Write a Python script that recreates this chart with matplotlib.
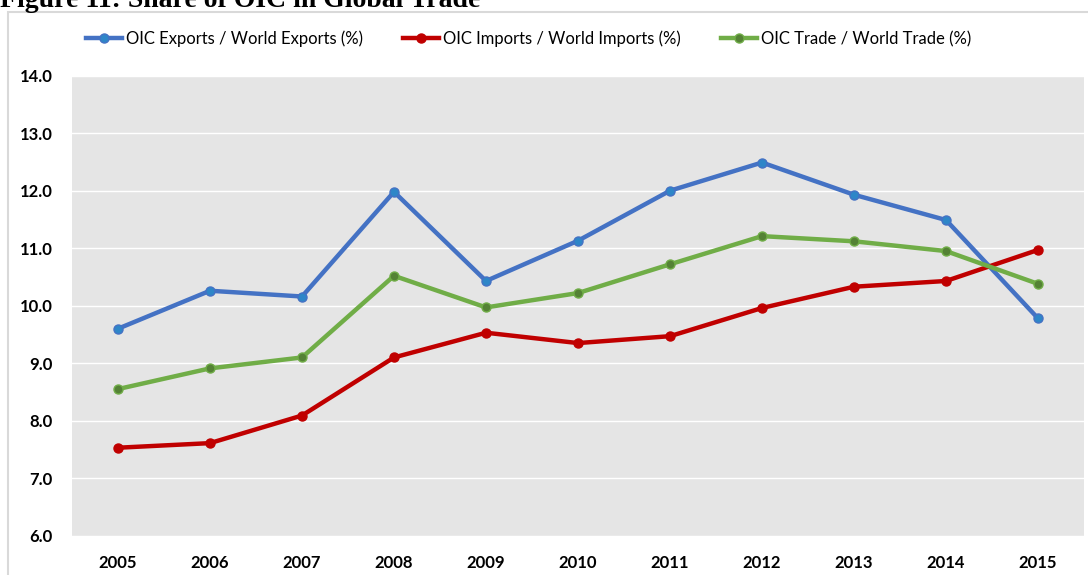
import matplotlib.pyplot as plt
from matplotlib.patches import Rectangle

years = ["2005", "2006", "2007", "2008", "2009", "2010", "2011", "2012", "2013", "2014", "2015"]
exports_share = [9.60, 10.26, 10.16, 11.98, 10.43, 11.13, 12.00, 12.49, 11.93, 11.49, 9.78]
imports_share = [7.53, 7.61, 8.09, 9.10, 9.53, 9.35, 9.47, 9.96, 10.33, 10.43, 10.97]
trade_share = [8.55, 8.91, 9.10, 10.52, 9.97, 10.22, 10.72, 11.21, 11.12, 10.95, 10.38]
y_ticks = [6, 7, 8, 9, 10, 11, 12, 13, 14]

W, H = 1088, 575
fig = plt.figure(figsize=(W / 100, H / 100), dpi=100)
fig.patch.set_facecolor("white")

# outer chart frame (partly cut off on the right and bottom)
fig.patches.append(Rectangle((8 / W, -0.1), 1.2, 1 - 12 / H + 0.1, transform=fig.transFigure,
                             facecolor="none", edgecolor="#D9D9D9", linewidth=1.5))

fig.text(0, 1 - 7 / H, "Figure 11: Share of OIC in Global Trade", family="Liberation Serif",
         fontweight="bold", fontsize=20, va="baseline", ha="left", color="black")

ax = fig.add_axes([72 / W, 1 - 535.7 / H, (1084 - 72) / W, (535.7 - 75.7) / H])
ax.set_facecolor("#E5E5E5")

x = range(len(years))
series = [
    (exports_share, "#4472C4", "#2E86C8", "OIC Exports / World Exports (%)"),
    (imports_share, "#C00000", "#C00000", "OIC Imports / World Imports (%)"),
    (trade_share, "#70AD47", "#548235", "OIC Trade / World Trade (%)"),
]
for vals, lc, mc, lab in series:
    ax.plot(x, vals, color=lc, linewidth=3.2, marker="o", markersize=6.5,
            markerfacecolor=mc, markeredgecolor=lc, markeredgewidth=1, label=lab)

ax.set_xlim(-0.5, len(years) - 0.5)
ax.set_ylim(6, 14)
ax.set_xticks(list(x))
ax.set_xticklabels(years)
ax.set_yticks(y_ticks)
ax.set_yticklabels([f"{v:.1f}" for v in y_ticks])
ax.grid(axis="y", color="white", linewidth=1)
ax.set_axisbelow(True)
for s in ax.spines.values():
    s.set_visible(False)
ax.tick_params(length=0, labelsize=12)
ax.tick_params(axis="y", pad=14)
ax.tick_params(axis="x", pad=14)
for lab in ax.get_xticklabels() + ax.get_yticklabels():
    lab.set_family("Lato")
    lab.set_fontweight("bold")
    lab.set_color("black")

ax.legend(loc="center", bbox_to_anchor=(0.486, 1 - 39 / H), bbox_transform=fig.transFigure,
          ncol=3, frameon=False, prop={"family": "Lato", "size": 12},
          handlelength=2.15, handletextpad=0.25, columnspacing=2.4, numpoints=1)

fig.savefig("out.png", dpi=100)
